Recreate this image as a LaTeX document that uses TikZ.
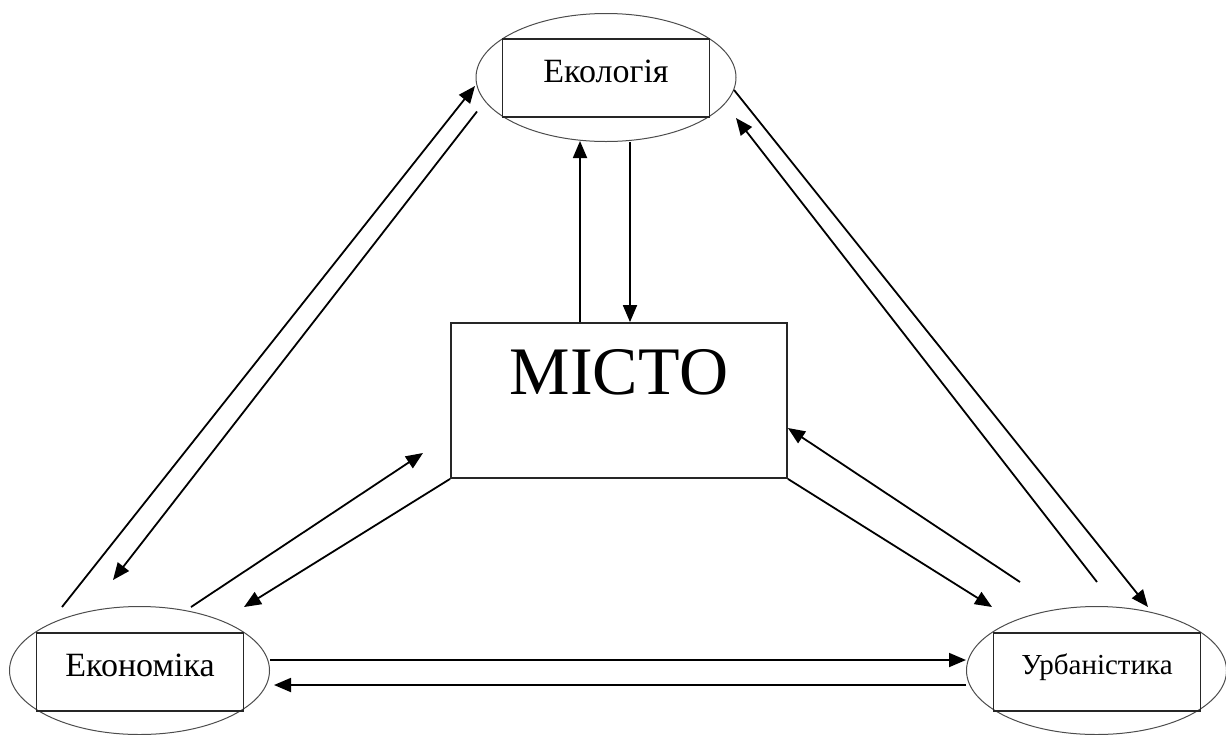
\documentclass[tikz,border=0pt]{standalone}
\usepackage{fontspec}
\setmainfont{Liberation Serif}
\usetikzlibrary{arrows.meta,calc,shapes.geometric}
\tikzset{
        sfera_e/.style = {ellipse, draw=black!70, line width=0.5pt,
            minimum width=130pt, minimum height=64pt, inner sep=0pt},
        sfera_r/.style = {rectangle, draw=black!85, line width=0.9pt,
            minimum width=103.5pt, minimum height=39pt, inner sep=0pt,
            font=\fontsize{17}{20}\selectfont, text height=11.3pt, text depth=7pt},
        misto_b/.style = {rectangle, draw=black!85, line width=0.9pt,
            minimum width=168pt, minimum height=77.5pt, inner sep=0pt,
            font=\fontsize{34}{40}\selectfont, text height=22.5pt, text depth=28.5pt}
    }
\begin{document}
\begin{tikzpicture}[x=0.5pt,y=-0.5pt,->,>={Triangle[length=8.5pt,width=7pt]},
            line width=0.9pt]
    \useasboundingbox (0,0) rectangle (1226,734);
    % spheres
    \node [sfera_e] (ekol) at (606,77.5) {};
    \node [sfera_r] (ekol_r) at (606,78) {Екологія};
    \node [sfera_e] (ekon) at (139.5,670.5) {};
    \node [sfera_r] (ekon_r) at (140,672) {Економіка};
    \node [sfera_e] (urb) at (1096.5,670.5) {};
    \node [sfera_r, font=\fontsize{14.5}{17}\selectfont, text height=9.6pt,
        text depth=7.6pt] (urb_r) at (1097,672) {Урбаністика};
    \node [misto_b] (misto) at (619,400.5) {МІСТО};
    % city - ecology
    \draw ($(misto.north)+(-39,0)$) -- ($(ekol.south)+(-26,-1)$);
    \draw ($(ekol.south)+(24,0)$) -- ($(misto.north)+(11,0)$);
    % economy side
    \draw ($(ekon)+(-77.5,-63.5)$) -- ($(ekol)+(-131,8.5)$);
    \draw ($(ekol)+(-129,34)$) -- ($(ekon)+(-26.5,-90.5)$);
    \draw ($(ekon)+(51.5,-63.5)$) -- ($(misto)+(-196,52.5)$);
    \draw (misto.south west) -- ($(ekon)+(104.5,-63.5)$);
    % urbanism side
    \draw (misto.south east) -- ($(urb)+(-104.5,-63.5)$);
    \draw ($(urb)+(-76.5,-88.5)$) -- ($(misto.east)+(0,27.5)$);
    \draw ($(ekol)+(128,12.5)$) -- ($(urb)+(51.5,-63.5)$);
    \draw ($(urb)+(0.5,-88.5)$) -- ($(ekol)+(130,40.5)$);
    % bottom
    \draw ($(ekon.east)+(0,-10.5)$) -- ($(urb.west)+(0,-10.5)$);
    \draw ($(urb.west)+(0,14.5)$) -- ($(ekon.east)+(4,14.5)$);
\end{tikzpicture}
\end{document}
